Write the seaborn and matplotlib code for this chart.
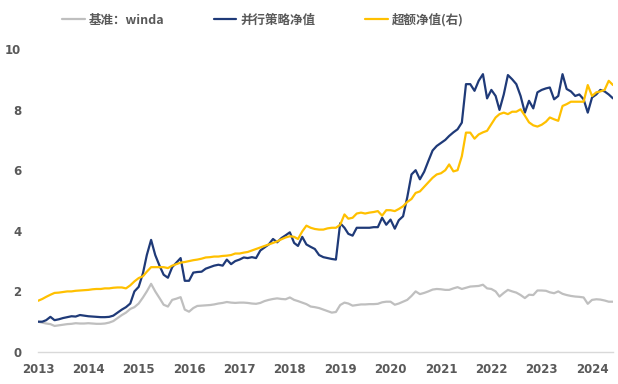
import pandas as pd
import matplotlib
matplotlib.use("Agg")
import matplotlib.pyplot as plt
import matplotlib.dates as mdates
import seaborn as sns

# monthly data, 2013-01 .. 2024-06
months = pd.date_range("2013-01-01", "2024-06-01", freq="MS")

strategy = [
    1.00, 1.00, 1.05, 1.16, 1.05, 1.08, 1.12, 1.15, 1.18, 1.17, 1.22, 1.20,
    1.18, 1.17, 1.16, 1.15, 1.15, 1.16, 1.20, 1.30, 1.40, 1.48, 1.60, 2.00,
    2.15, 2.60, 3.20, 3.70, 3.20, 2.85, 2.55, 2.45, 2.80, 2.95, 3.10, 2.35,
    2.35, 2.62, 2.64, 2.65, 2.75, 2.80, 2.85, 2.88, 2.85, 3.05, 2.90, 3.00,
    3.05, 3.12, 3.10, 3.13, 3.10, 3.35, 3.45, 3.55, 3.73, 3.62, 3.76, 3.85,
    3.95, 3.60, 3.50, 3.80, 3.55, 3.47, 3.40, 3.20, 3.13, 3.10, 3.07, 3.05,
    4.25, 4.10, 3.90, 3.84, 4.10, 4.10, 4.10, 4.10, 4.12, 4.12, 4.43, 4.20,
    4.37, 4.07, 4.35, 4.48, 5.10, 5.86, 6.00, 5.70, 5.95, 6.30, 6.65, 6.80,
    6.90, 7.00, 7.13, 7.25, 7.35, 7.57, 8.84, 8.84, 8.62, 8.95, 9.17, 8.37,
    8.65, 8.45, 7.99, 8.50, 9.14, 9.00, 8.84, 8.45, 7.90, 8.29, 8.04, 8.57,
    8.65, 8.70, 8.73, 8.34, 8.45, 9.17, 8.68, 8.60, 8.45, 8.50, 8.34, 7.90,
    8.40, 8.50, 8.65, 8.60, 8.50, 8.37,
]

excess = [
    1.69, 1.75, 1.82, 1.89, 1.95, 1.96, 1.98, 2.00, 2.00, 2.02, 2.03, 2.04,
    2.05, 2.07, 2.08, 2.08, 2.10, 2.10, 2.12, 2.13, 2.13, 2.10, 2.20, 2.33,
    2.44, 2.50, 2.65, 2.80, 2.80, 2.80, 2.80, 2.77, 2.85, 2.90, 2.95, 2.97,
    3.00, 3.03, 3.05, 3.08, 3.12, 3.13, 3.15, 3.15, 3.17, 3.18, 3.20, 3.25,
    3.25, 3.28, 3.30, 3.35, 3.40, 3.45, 3.50, 3.55, 3.60, 3.65, 3.72, 3.78,
    3.82, 3.80, 3.73, 3.98, 4.17, 4.10, 4.06, 4.04, 4.04, 4.08, 4.10, 4.10,
    4.20, 4.54, 4.40, 4.43, 4.57, 4.60, 4.57, 4.60, 4.62, 4.65, 4.50, 4.68,
    4.68, 4.65, 4.72, 4.81, 4.95, 5.05, 5.25, 5.30, 5.45, 5.60, 5.75, 5.86,
    5.90, 6.00, 6.19, 5.96, 6.00, 6.46, 7.24, 7.24, 7.04, 7.18, 7.25, 7.30,
    7.52, 7.74, 7.85, 7.90, 7.85, 7.93, 7.93, 8.01, 7.80, 7.58, 7.48, 7.44,
    7.50, 7.60, 7.74, 7.68, 7.63, 8.12, 8.18, 8.26, 8.26, 8.26, 8.26, 8.81,
    8.45, 8.57, 8.60, 8.65, 8.95, 8.81,
]

benchmark = [
    1.00, 0.97, 0.94, 0.92, 0.86, 0.88, 0.90, 0.92, 0.93, 0.95, 0.94, 0.94,
    0.95, 0.94, 0.93, 0.93, 0.94, 0.97, 1.02, 1.12, 1.22, 1.30, 1.42, 1.48,
    1.60, 1.80, 2.00, 2.25, 2.00, 1.78, 1.56, 1.50, 1.72, 1.76, 1.81, 1.40,
    1.33, 1.45, 1.52, 1.53, 1.54, 1.55, 1.57, 1.60, 1.62, 1.65, 1.63, 1.62,
    1.63, 1.63, 1.62, 1.60, 1.59, 1.62, 1.68, 1.72, 1.75, 1.77, 1.75, 1.74,
    1.80, 1.72, 1.68, 1.63, 1.58, 1.50, 1.48, 1.45, 1.40, 1.35, 1.30, 1.32,
    1.55, 1.63, 1.60, 1.53, 1.55, 1.57, 1.57, 1.58, 1.58, 1.59, 1.64, 1.66,
    1.66, 1.56, 1.60, 1.66, 1.72, 1.85, 2.00, 1.91, 1.95, 2.00, 2.06, 2.08,
    2.07, 2.05, 2.05, 2.10, 2.14, 2.08, 2.12, 2.16, 2.17, 2.18, 2.22, 2.10,
    2.08, 2.00, 1.83, 1.95, 2.05, 2.00, 1.96, 1.88, 1.78, 1.89, 1.88, 2.03,
    2.03, 2.02, 1.97, 1.94, 2.00, 1.92, 1.88, 1.85, 1.83, 1.82, 1.80, 1.59,
    1.72, 1.74, 1.73, 1.70, 1.66, 1.66,
]

labels = ["基准：winda", "并行策略净值", "超额净值(右)"]
colors = ["#bfbfbf", "#1f3a78", "#ffc000"]
year_ticks = pd.date_range("2013-01-01", "2024-01-01", freq="YS")

sns.set_style("white")
plt.rcParams["font.family"] = ["Noto Sans CJK SC", "DejaVu Sans"]

fig = plt.figure(figsize=(6.18, 3.84), dpi=100)
ax = fig.add_axes([38 / 618, 1 - 352 / 384, 575 / 618, 303 / 384])

for vals, lab, col in zip([benchmark, strategy, excess], labels, colors):
    sns.lineplot(x=months, y=vals, ax=ax, color=col, linewidth=1.6, label=lab)

ax.set_xlim(months[0], months[-1])
ax.set_ylim(0, 10)
ax.set_yticks([0, 2, 4, 6, 8, 10])
ax.set_xticks(year_ticks)
ax.xaxis.set_major_formatter(mdates.DateFormatter("%Y"))
ax.set_xlabel("")
ax.set_ylabel("")
for s in ["top", "right", "left"]:
    ax.spines[s].set_visible(False)
ax.spines["bottom"].set_color("#d9d9d9")
ax.spines["bottom"].set_linewidth(1.0)
ax.tick_params(axis="both", length=0, labelsize=8.5, labelcolor="#595959")
ax.tick_params(axis="y", pad=12)
ax.tick_params(axis="x", pad=8)
for t in ax.get_xticklabels() + ax.get_yticklabels():
    t.set_fontweight("bold")
    t.set_family("DejaVu Sans")

ax.get_legend().remove()
h, l = ax.get_legend_handles_labels()
fig.legend(h, l, loc="upper center", bbox_to_anchor=(0.425, 0.995), ncol=3,
           frameon=False, handlelength=1.8, handletextpad=0.3,
           columnspacing=4.0, labelcolor="#595959",
           prop={"family": ["Noto Sans CJK SC", "DejaVu Sans"], "weight": "bold", "size": 9})

fig.savefig("out.png", dpi=100)
